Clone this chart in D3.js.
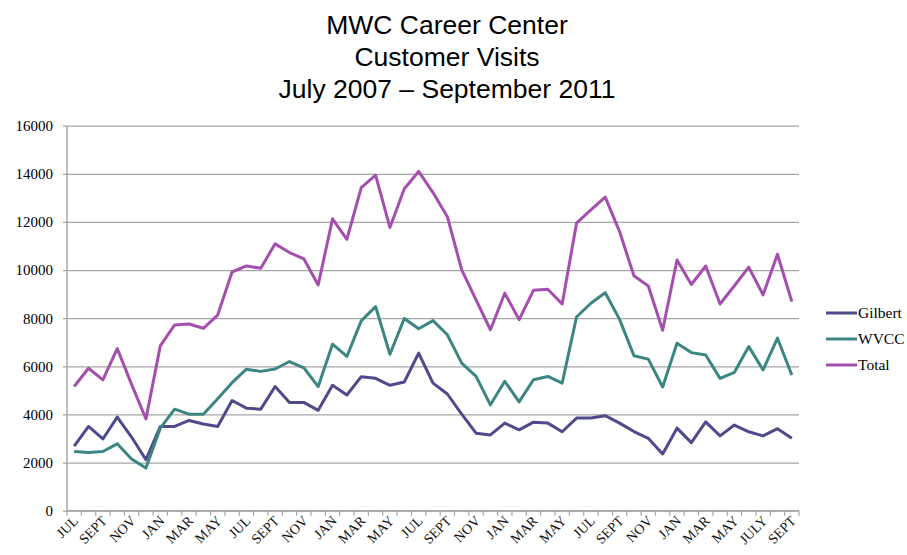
<!DOCTYPE html>
<html>
<head>
<meta charset="utf-8">
<script src="https://cdn.jsdelivr.net/npm/d3@7"></script>
<style>
  body { margin: 0; background: #fff; }
  svg { display: block; }
</style>
</head>
<body>
<script>
// month labels, one per month Jul 2007 - Sep 2011 (only every other one is shown)
var months = ["JUL","AUG","SEPT","OCT","NOV","DEC",
  "JAN","FEB","MAR","APR","MAY","JUN","JUL","AUG","SEPT","OCT","NOV","DEC",
  "JAN","FEB","MAR","APR","MAY","JUN","JUL","AUG","SEPT","OCT","NOV","DEC",
  "JAN","FEB","MAR","APR","MAY","JUN","JUL","AUG","SEPT","OCT","NOV","DEC",
  "JAN","FEB","MAR","APR","MAY","JUN","JULY","AUG","SEPT"]

var gilbert = [2680,3500,2980,3890,3060,2120,3500,3500,3750,3600,3500,4580,4260,4220,5160,4500,4500,4170,
  5210,4810,5570,5500,5210,5350,6550,5300,4850,4010,3220,3150,3640,3360,3680,3640,3280,3850,3850,3950,
  3640,3290,3010,2360,3430,2830,3690,3110,3560,3280,3110,3410,3010]

var wvcc = [2460,2420,2460,2780,2150,1770,3430,4220,4010,4010,4650,5320,5880,5790,5890,6200,5940,5160,
  6920,6410,7890,8480,6500,7990,7560,7900,7310,6130,5580,4400,5380,4520,5440,5580,5300,8050,8620,9060,
  7950,6440,6300,5140,6960,6570,6470,5500,5750,6820,5850,7170,5640]

var total = [5160,5920,5440,6740,5250,3810,6850,7720,7760,7580,8130,9920,10170,10080,11090,10730,10470,9380,
  12130,11280,13430,13950,11770,13380,14100,13220,12220,10010,8760,7520,9040,7940,9160,9200,8590,11950,12500,13030,
  11600,9760,9340,7500,10420,9400,10170,8590,9350,10120,8970,10660,8690]

var yTicks = [0,2000,4000,6000,8000,10000,12000,14000,16000]
var titleLines = ["MWC Career Center", "Customer Visits", "July 2007 \u2013 September 2011"]

var series = [
  {name: "Gilbert", values: gilbert, color: "#4f4b8b"},
  {name: "WVCC", values: wvcc, color: "#3c8681"},
  {name: "Total", values: total, color: "#a44fae"}
]

var W = 907, H = 555
var pLeft = 67, pRight = 799, pTop = 125.7, pBottom = 510.7

var svg = d3.select("body").append("svg")
  .attr("width", W)
  .attr("height", H)

// TITLE
svg.append("g").selectAll("text")
  .data(titleLines)
  .enter()
  .append("text")
  .attr("x", 447)
  .attr("y", (d, i) => 34 + i * 32)
  .attr("text-anchor", "middle")
  .style("font-family", "'Liberation Sans', Arial, sans-serif")
  .style("font-size", "26.5px")
  .style("fill", "#000")
  .text(d => d)

// SCALES
var idx = d3.range(months.length)
var x = d3.scaleBand().domain(idx).range([pLeft, pRight])
var y = d3.scaleLinear().domain([0, 16000]).range([pBottom, pTop])

// GRIDLINES + Y LABELS
var yAxis = d3.axisLeft(y).tickValues(yTicks).tickSize(0).tickFormat(d => d)
var gy = svg.append("g")
  .attr("transform", "translate(" + (pLeft - 4) + ",0)")
  .call(yAxis)
gy.select(".domain").remove()
gy.selectAll(".tick line")
  .attr("x1", 0)
  .attr("x2", pRight - pLeft + 4)
  .style("stroke", "#a6a6a6")
  .style("stroke-width", 1.2)
gy.selectAll(".tick text")
  .attr("x", -10)
  .style("font-family", "'Liberation Serif', 'DejaVu Serif', serif")
  .style("font-size", "15px")
  .style("fill", "#000")

// Y AXIS LINE
svg.append("line")
  .attr("x1", pLeft).attr("x2", pLeft)
  .attr("y1", pTop).attr("y2", pBottom)
  .style("stroke", "#a6a6a6")
  .style("stroke-width", 1.5)

// X AXIS: line, ticks at band edges, rotated labels
svg.append("line")
  .attr("x1", pLeft).attr("x2", pRight)
  .attr("y1", pBottom).attr("y2", pBottom)
  .style("stroke", "#a6a6a6")
  .style("stroke-width", 1.5)

var edges = d3.range(months.length + 1)
svg.append("g").selectAll("line")
  .data(edges)
  .enter()
  .append("line")
  .attr("x1", d => pLeft + d * x.step())
  .attr("x2", d => pLeft + d * x.step())
  .attr("y1", pBottom)
  .attr("y2", pBottom + 5)
  .style("stroke", "#a6a6a6")
  .style("stroke-width", 1.2)

svg.append("g").selectAll("text")
  .data(idx.filter(i => i % 2 == 0))
  .enter()
  .append("text")
  .attr("transform", i => "translate(" + (x(i) + x.bandwidth() / 2 + 5) + "," + (pBottom + 11) + ") rotate(-45)")
  .attr("text-anchor", "end")
  .style("font-family", "'Liberation Serif', 'DejaVu Serif', serif")
  .style("font-size", "14px")
  .style("fill", "#111")
  .text(i => months[i])

// LINES
var line = d3.line()
  .x((d, i) => x(i) + x.bandwidth() / 2)
  .y(d => y(d))

svg.append("g").selectAll("path")
  .data(series)
  .enter()
  .append("path")
  .attr("d", d => line(d.values))
  .style("fill", "none")
  .style("stroke", d => d.color)
  .style("stroke-width", 3)
  .style("stroke-linejoin", "round")

// LEGEND
var legend = svg.append("g").selectAll("g")
  .data(series)
  .enter()
  .append("g")
  .attr("transform", (d, i) => "translate(826," + (313 + i * 26) + ")")

legend.append("line")
  .attr("x1", 0).attr("x2", 31)
  .style("stroke", d => d.color)
  .style("stroke-width", 3)

legend.append("text")
  .attr("x", 32)
  .attr("y", 5)
  .style("font-family", "'Liberation Serif', 'DejaVu Serif', serif")
  .style("font-size", "15.5px")
  .style("fill", "#000")
  .text(d => d.name)
</script>
</body>
</html>
